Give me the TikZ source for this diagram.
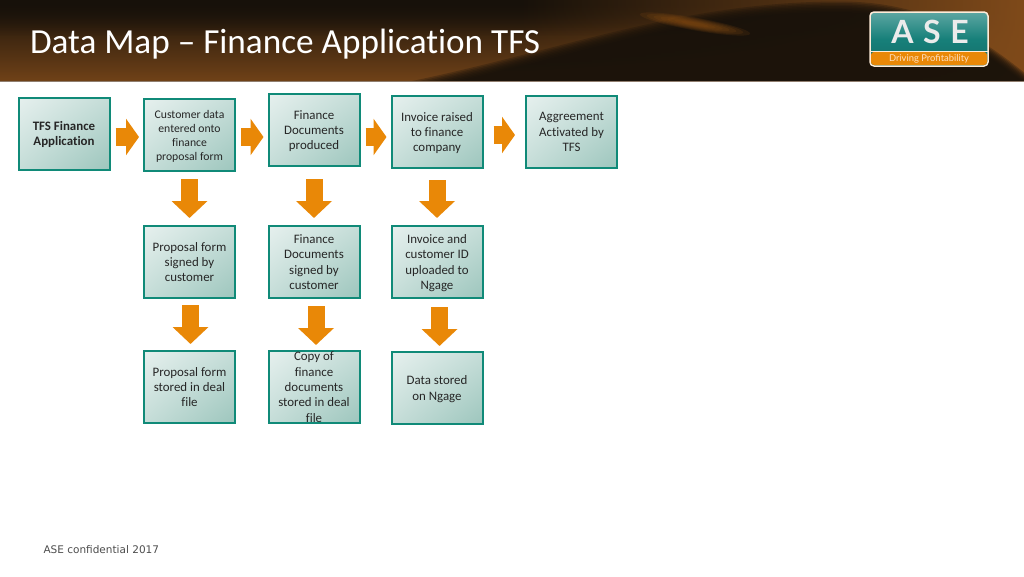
\documentclass[tikz,border=0pt]{standalone}
\usepackage{fontspec}
\setmainfont{Carlito}[Ligatures=NoCommon]
\newfontfamily\footfont{DejaVu Sans}
\newfontfamily\logofont[LetterSpace=30]{Lato}
\newfontfamily\logosmall{Lato}
\usetikzlibrary{arrows.meta}
\usetikzlibrary{fadings}
\usetikzlibrary{shadings}

\definecolor{boxlight}{HTML}{E6F0EE}
\definecolor{boxdark}{HTML}{9DC6BD}
\definecolor{boxline}{HTML}{108A78}
\definecolor{flowarrow}{HTML}{E98807}
\definecolor{bandbrown}{HTML}{7F4A1A}
\definecolor{banddark}{HTML}{17110A}
\definecolor{logoteal}{HTML}{17807A}

\tikzset{
    databox/.style={draw=boxline, line width=2pt, minimum width=91pt, minimum height=72pt,
        inner sep=0pt, align=center, font=\fontsize{12.9}{15.3}\selectfont, text=black!85,
        upper left=boxlight, upper right=boxlight!55!boxdark,
        lower left=boxlight!55!boxdark, lower right=boxdark, text depth=0pt},
    smallbox/.style={databox, font=\fontsize{11.7}{14}\selectfont},
    lowbox/.style={databox, text depth=-1.5pt},
    flowright/.style={line width=18pt, draw=flowarrow, -{Triangle[length=13pt,width=36pt,color=flowarrow]},
        shorten <=5pt, shorten >=4pt},
    flowdown/.style={line width=17pt, draw=flowarrow, -{Triangle[length=17pt,width=35pt,color=flowarrow]},
        shorten <=7pt, shorten >=7pt},
}

\begin{document}
\begin{tikzpicture}[x=1pt, y=-1pt]
    \useasboundingbox (0,0) rectangle (1024,576);

    % Header band
    \shade[top color=banddark, bottom color=bandbrown!85!banddark] (0,0) rectangle (1024,81);
    \fill[banddark, path fading=south] (0,0) rectangle (1024,36);
    \fill[bandbrown, path fading=west] (520,0) rectangle (1024,81);
    \begin{scope}
        \clip (0,0) rectangle (1024,81);
        \foreach \s in {0,...,7}{
            \fill[banddark, opacity=0.28, yshift=\s*1.5pt]
                (400,94) .. controls (560,62) and (680,12) .. (840,12)
                .. controls (930,12) and (985,50) .. (1040,96) -- cycle;
        }
    \end{scope}
    % Streak of light
    \foreach \r in {8,...,2}{
        \fill[bandbrown!80!orange, opacity=0.14, rotate around={-10:(695,24)}]
            (695,24) ellipse ({\r*7pt} and {\r*0.8pt});
    }
    \draw[black!45!bandbrown!60!white, line width=1pt] (0,81) -- (1024,81);

    % Title
    \node[anchor=west, text=white, font=\fontsize{35.2}{38}\selectfont] (title) at (26.5,44) {Data Map – Finance Application TFS};

    % Logo
    \draw[white!85!orange, line width=1.5pt, top color=logoteal!70!white, bottom color=logoteal!85!black, middle color=logoteal, rounded corners=4pt] (870,12) rectangle (988,66);
    \fill[flowarrow, rounded corners=3pt] (871,52) rectangle (987,65);
    \draw[white!85!orange, line width=0.8pt] (870.5,51.5) -- (987.5,51.5);
    \node[text=white!92!black, font=\logofont\bfseries\fontsize{32}{34}\selectfont] (ase) at (930,32) {ASE};
    \node[text=white!75!orange, font=\logosmall\fontsize{9.4}{10}\selectfont] (slogan) at (929,59) {Driving Profitability};

    % Top row
    \node[lowbox, font=\fontsize{12.9}{15.3}\selectfont\bfseries] (tfs) at (64,133.5) {TFS Finance\\Application};
    \node[smallbox] (customer) at (189.5,135) {Customer data\\entered onto\\finance\\proposal form};
    \node[databox] (documents) at (314,130) {Finance\\Documents\\produced};
    \node[databox] (invoice) at (437,132) {Invoice raised\\to finance\\company};
    \node[databox] (agreement) at (571.5,132) {Aggreement\\Activated by\\TFS};

    % Middle row
    \node[databox] (signed) at (189.5,262) {Proposal form\\signed by\\customer};
    \node[databox] (docsigned) at (314,262) {Finance\\Documents\\signed by\\customer};
    \node[databox] (uploaded) at (437,262) {Invoice and\\customer ID\\uploaded to\\Ngage};

    % Bottom row
    \node[databox] (stored) at (189.5,387) {Proposal form\\stored in deal\\file};
    \node[databox] (copy) at (314,387) {Copy of\\finance\\documents\\stored in deal\\file};
    \node[lowbox] (ngage) at (437,388) {Data stored\\on Ngage};

    % Arrows along the top
    \draw[flowright] ([yshift=-3.5pt]tfs.east) -- ([yshift=-2pt]customer.west);
    \draw[flowright] ([yshift=-2pt]customer.east) -- ([yshift=-7pt]documents.west);
    \draw[flowright] ([yshift=-7pt]documents.east) -- ([yshift=-5pt]invoice.west);
    \draw[flowright, shorten <=10pt, shorten >=10pt] ([yshift=-3pt]invoice.east) -- ([yshift=-3pt]agreement.west);

    % Arrows going down
    \draw[flowdown] (customer.south) -- (signed.north);
    \draw[flowdown, shorten <=12pt] (documents.south) -- (docsigned.north);
    \draw[flowdown, shorten <=11pt] (invoice.south) -- (uploaded.north);
    \draw[flowdown, shorten <=6pt, shorten >=6pt] ([xshift=1pt]signed.south) -- ([xshift=1pt]stored.north);
    \draw[flowdown, shorten >=5pt] ([xshift=2pt]docsigned.south) -- ([xshift=2pt]copy.north);
    \draw[flowdown, shorten <=8pt, shorten >=5pt] ([xshift=2.5pt]uploaded.south) -- ([xshift=2.5pt]ngage.north);

    % Footer
    \node[anchor=west, text=black!70, font=\footfont\fontsize{10.5}{12}\selectfont] (footer) at (40,550) {ASE confidential 2017};
\end{tikzpicture}
\end{document}
